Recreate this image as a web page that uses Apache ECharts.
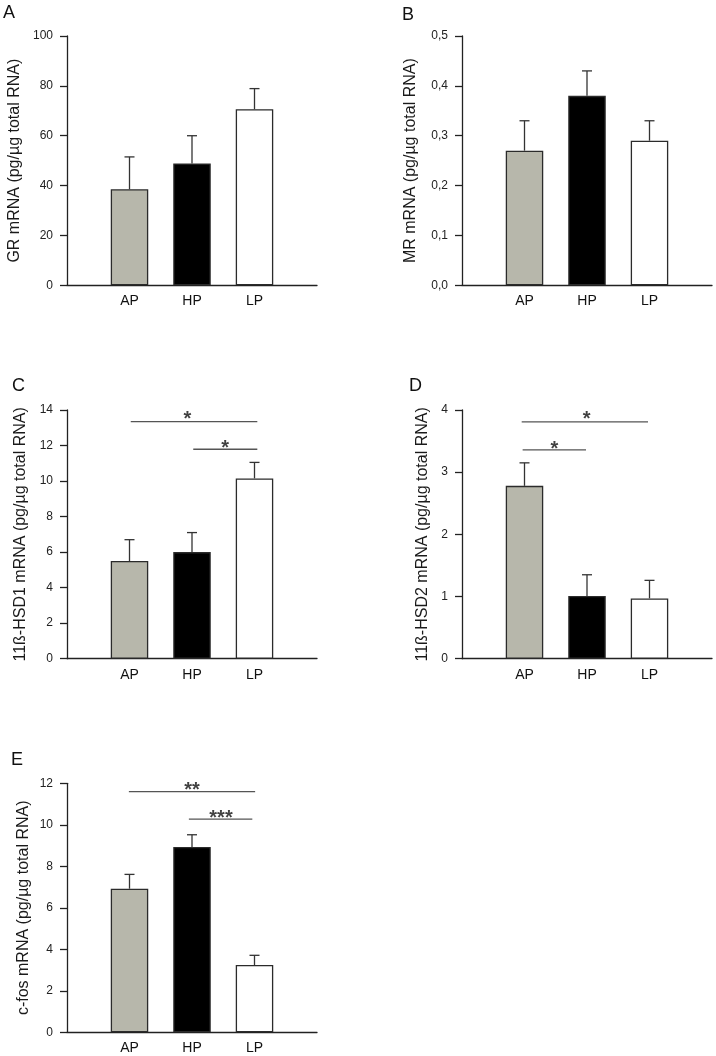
<!DOCTYPE html>
<html>
<head>
<meta charset="utf-8">
<script src="https://cdn.jsdelivr.net/npm/echarts@6/dist/echarts.min.js"></script>
<style>
html,body{margin:0;padding:0;background:#fff;}
#chart{width:716px;height:1056px;}
</style>
</head>
<body>
<div id="chart"></div>
<script>
// ---- data ----
const categories = ['AP', 'HP', 'LP'];

const grMean = [38.5, 48.9, 70.6];
const grUpper = [51.5, 60.0, 78.9];
const grTicks = [0, 20, 40, 60, 80, 100];

const mrMean = [0.27, 0.38, 0.29];
const mrUpper = [0.33, 0.43, 0.33];
const mrTicks = [0, 0.1, 0.2, 0.3, 0.4, 0.5];

const hsd1Mean = [5.5, 6.0, 10.15];
const hsd1Upper = [6.7, 7.1, 11.05];
const hsd1Ticks = [0, 2, 4, 6, 8, 10, 12, 14];
const hsd1Sig = [
  {from: 1.02, to: 3.045, y: 13.34, text: '*', tx: 1.925, ty: 13.72},
  {from: 2.02, to: 3.045, y: 11.79, text: '*', tx: 2.53, ty: 12.13}
];

const hsd2Mean = [2.78, 1.01, 0.97];
const hsd2Upper = [3.15, 1.35, 1.26];
const hsd2Ticks = [0, 1, 2, 3, 4];
const hsd2Sig = [
  {from: 0.955, to: 2.976, y: 3.81, text: '*', tx: 1.995, ty: 3.93},
  {from: 0.97, to: 1.984, y: 3.36, text: '*', tx: 1.477, ty: 3.45}
];

const cfosMean = [6.92, 8.93, 3.24];
const cfosUpper = [7.61, 9.52, 3.71];
const cfosTicks = [0, 2, 4, 6, 8, 10, 12];
const cfosSig = [
  {from: 0.99, to: 3.01, y: 11.6, text: '**', tx: 2.0, ty: 11.9},
  {from: 1.95, to: 2.965, y: 10.27, text: '***', tx: 2.464, ty: 10.53}
];

const panelLetters = ['A', 'B', 'C', 'D', 'E'];
const yTitles = [
  'GR mRNA (pg/µg total RNA)',
  'MR mRNA (pg/µg total RNA)',
  '11ß-HSD1 mRNA (pg/µg total RNA)',
  '11ß-HSD2 mRNA (pg/µg total RNA)',
  'c-fos mRNA (pg/µg total RNA)'
];

// ---- styling / layout ----
const FONT = '"Liberation Sans", Arial, Helvetica, sans-serif';
const barColors = ['#b7b7ab', '#000000', '#ffffff'];
const axisColor = '#222';
const layouts = [
  {left: 67, top: 36, height: 249.3, gap: 44, letter: [10, 13]},
  {left: 462, top: 36, height: 249.3, gap: 43, letter: [409, 15]},
  {left: 67, top: 410, height: 248.7, gap: 38, letter: [19, 386]},
  {left: 462, top: 410, height: 248.7, gap: 31, letter: [416, 386]},
  {left: 67, top: 783.3, height: 249, gap: 35, letter: [18, 760]}
];
const panels = [
  {mean: grMean, upper: grUpper, ticks: grTicks, sig: [], fmt: v => String(v)},
  {mean: mrMean, upper: mrUpper, ticks: mrTicks, sig: [], fmt: v => v.toFixed(1).replace('.', ',')},
  {mean: hsd1Mean, upper: hsd1Upper, ticks: hsd1Ticks, sig: hsd1Sig, fmt: v => String(v)},
  {mean: hsd2Mean, upper: hsd2Upper, ticks: hsd2Ticks, sig: hsd2Sig, fmt: v => String(v)},
  {mean: cfosMean, upper: cfosUpper, ticks: cfosTicks, sig: cfosSig, fmt: v => String(v)}
];

const grid = [], xAxis = [], yAxis = [], series = [], graphic = [];

panels.forEach((p, i) => {
  const L = layouts[i];
  grid.push({left: L.left, top: L.top, width: 250, height: L.height, containLabel: false});
  xAxis.push({
    type: 'value', gridIndex: i, min: 0, max: 4, interval: 1,
    axisLine: {show: true, lineStyle: {color: axisColor, width: 1.3}},
    axisTick: {show: false},
    splitLine: {show: false},
    axisLabel: {
      margin: 9, fontSize: 14, color: '#111', fontFamily: FONT,
      formatter: v => categories[v - 1] || ''
    }
  });
  const tk = p.ticks;
  yAxis.push({
    type: 'value', gridIndex: i, min: tk[0], max: tk[tk.length - 1], interval: tk[1] - tk[0],
    axisLine: {show: true, lineStyle: {color: axisColor, width: 1.3}},
    axisTick: {show: true, inside: false, length: 7, lineStyle: {color: axisColor, width: 1.3}},
    splitLine: {show: false},
    axisLabel: {margin: 14, fontSize: 12, color: '#222', fontFamily: FONT, formatter: p.fmt},
    name: yTitles[i], nameLocation: 'middle', nameRotate: 90, nameGap: L.gap,
    nameTextStyle: {fontSize: 16, color: '#1a1a1a', fontFamily: FONT}
  });
  series.push({
    type: 'bar', xAxisIndex: i, yAxisIndex: i, barWidth: 37.5, animation: false,
    data: categories.map((c, j) => ({
      value: [j + 1, p.mean[j]],
      itemStyle: {color: barColors[j], borderColor: '#2b2b2b', borderWidth: 1.3}
    })),
    z: 2
  });
  series.push({
    type: 'custom', xAxisIndex: i, yAxisIndex: i, animation: false, z: 3,
    data: categories.map((c, j) => [j + 1, p.mean[j], p.upper[j]]),
    encode: {x: 0, y: [1, 2]},
    renderItem: (params, api) => {
      const x = api.value(0), m = api.value(1), u = api.value(2);
      const a = api.coord([x, m]), b = api.coord([x, u]);
      const st = {stroke: '#333', lineWidth: 1.3};
      return {type: 'group', children: [
        {type: 'line', shape: {x1: a[0], y1: a[1], x2: b[0], y2: b[1]}, style: st},
        {type: 'line', shape: {x1: b[0] - 5, y1: b[1], x2: b[0] + 5, y2: b[1]}, style: st}
      ]};
    }
  });
  p.sig.forEach(s => {
    series.push({
      type: 'line', xAxisIndex: i, yAxisIndex: i, animation: false, silent: true,
      symbol: 'none', lineStyle: {color: '#555', width: 1.3},
      data: [[s.from, s.y], [s.to, s.y]]
    });
    series.push({
      type: 'scatter', xAxisIndex: i, yAxisIndex: i, animation: false, silent: true,
      symbol: 'circle', symbolSize: 1, itemStyle: {color: 'rgba(0,0,0,0)'},
      data: [[s.tx, s.ty]],
      label: {
        show: true, position: 'inside', formatter: s.text, color: '#111',
        fontSize: 20, fontWeight: 'bold', fontFamily: FONT, offset: [0, 5]
      }
    });
  });
  graphic.push({
    type: 'text', left: L.letter[0] - 7, top: L.letter[1] - 9,
    style: {text: panelLetters[i], font: '18px ' + FONT, fill: '#111'}
  });
});

const chart = echarts.init(document.getElementById('chart'), null, {renderer: 'canvas'});
chart.setOption({
  animation: false,
  backgroundColor: '#fff',
  grid, xAxis, yAxis, series, graphic
});
</script>
</body>
</html>
